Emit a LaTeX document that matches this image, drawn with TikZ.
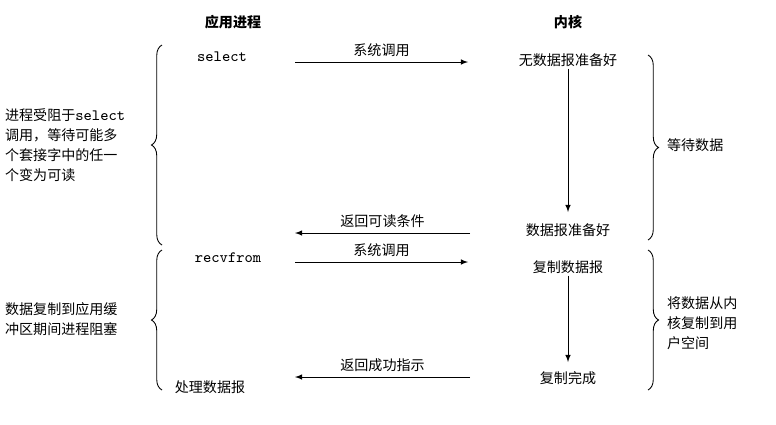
\documentclass[tikz,border=0pt]{standalone}
\usepackage{fontspec}
\setmainfont{Noto Sans CJK SC}
\usetikzlibrary{positioning,calc,arrows,decorations.pathreplacing}
\tikzstyle{edge} = [-latex]
\tikzstyle{brace} = [decorate, decoration={brace, amplitude=6pt}, line width=0.5pt]

\begin{document}
\begin{tikzpicture}[x=0.02cm, y=-0.02cm]
\tikzstyle{every node}=[align=left, inner sep=1pt, font=\fontsize{8}{11.3}\selectfont]
	\useasboundingbox (0,0) rectangle (776,424);
	\node (app) at (233, 22) {\textbf{应用进程}};
	\node (kern) at (568, 22) {\textbf{内核}};
	\node (sel) at (222, 57) {\ttfamily\fontsize{9}{11}\selectfont select};
	\node (nodg) at (568, 60) {无数据报准备好};
	\node (dgok) at (568, 230) {数据报准备好};
	\node (recv) at (228, 258) {\ttfamily\fontsize{9}{11}\selectfont recvfrom};
	\node (copy) at (568, 267) {复制数据报};
	\node (done) at (568, 378) {复制完成};
	\node (proc) at (210, 387) {处理数据报};
	\node[anchor=west] (wait) at (3, 145) {进程受阻于{\ttfamily\fontsize{9}{11}\selectfont select}\\调用，等待可能多\\个套接字中的任一\\个变为可读};
	\node[anchor=west] (block) at (3, 319) {数据复制到应用缓\\冲区期间进程阻塞};
	\node[anchor=west] (wdata) at (665, 145) {等待数据};
	\node[anchor=west] (cpdata) at (665, 323) {将数据从内\\核复制到用\\户空间};

	\coordinate (a1s) at (295, 62);  \coordinate (a1e) at (468, 62);
	\coordinate (a2s) at (470, 233); \coordinate (a2e) at (295, 233);
	\coordinate (a3s) at (295, 262); \coordinate (a3e) at (468, 262);
	\coordinate (a4s) at (470, 377); \coordinate (a4e) at (295, 377);

	\draw[edge]  (a1s) to node[above=2pt] {系统调用} (a1e);
	\draw[edge]  (a2s) to node[above=2pt] {返回可读条件} (a2e);
	\draw[edge]  (a3s) to node[above=2pt] {系统调用} (a3e);
	\draw[edge]  (a4s) to node[above=2pt] {返回成功指示} (a4e);
	\draw[edge]  (nodg) to (568, 212);
	\draw[edge]  (copy) to (568, 362);

	\draw[brace] (162, 245) -- (162, 45);
	\draw[brace] (162, 390) -- (162, 250);
	\draw[brace] (648, 55) -- (648, 240);
	\draw[brace] (648, 250) -- (648, 390);
\end{tikzpicture}
\end{document}
